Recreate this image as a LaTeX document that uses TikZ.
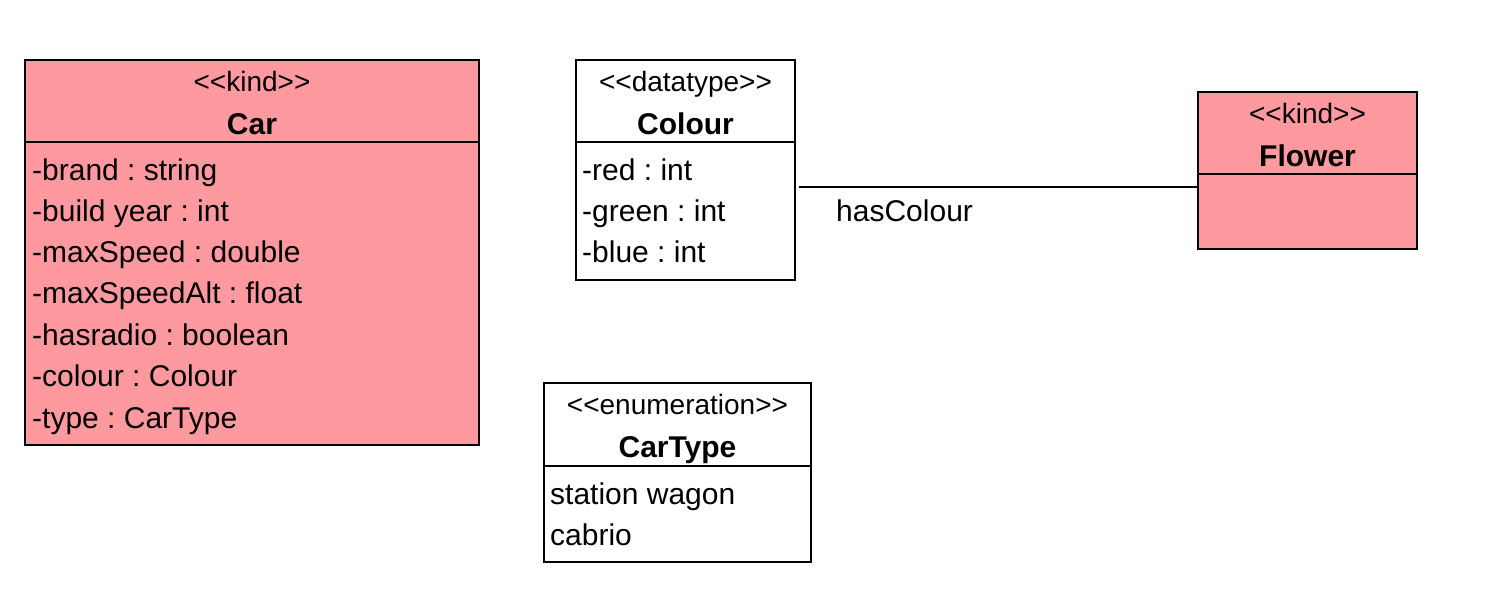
\documentclass[tikz,border=0pt]{standalone}
\usepackage{fontspec}
\setmainfont{Liberation Sans}
\definecolor{kindpink}{RGB}{255,153,160}
\newcommand{\lgl}{{<}{<}}
\newcommand{\rgl}{{>}{>}}
\frenchspacing
\begin{document}
\begin{tikzpicture}[x=1pt,y=-1pt,
  box/.style={draw=black,line width=2.5pt,rectangle,inner sep=0pt,outer sep=0pt,anchor=north west},
  divider/.style={line width=2.5pt},
  stereo/.style={anchor=base,inner sep=0pt,font=\fontsize{28}{32}\selectfont},
  cname/.style={anchor=base,inner sep=0pt,font=\fontsize{30}{34}\selectfont\bfseries},
  attr/.style={anchor=base west,inner sep=0pt,font=\fontsize{30}{34}\selectfont},
  assoc/.style={line width=2.5pt}]
\useasboundingbox (0,0) rectangle (1512,592);
% Car
\node[box,fill=kindpink,minimum width=454pt,minimum height=385pt] (car) at (25,60) {};
\draw[divider] (car.west |- 0,142) -- (car.east |- 0,142);
\node[stereo] (carst) at (252,91) {\lgl kind\rgl};
\node[cname] (carnm) at (252,134) {Car};
\node[attr] (ca1) at (32,180) {-brand : string};
\node[attr] (ca2) at (32,221) {-build year : int};
\node[attr] (ca3) at (32,262) {-maxSpeed : double};
\node[attr] (ca4) at (32,303.5) {-maxSpeedAlt : float};
\node[attr] (ca5) at (32,345) {-hasradio : boolean};
\node[attr] (ca6) at (32,386.5) {-colour : Colour};
\node[attr] (ca7) at (32,428) {-type : CarType};
% Colour
\node[box,fill=white,minimum width=219pt,minimum height=220pt] (colour) at (576,60) {};
\draw[divider] (colour.west |- 0,142) -- (colour.east |- 0,142);
\node[stereo] (colst) at (685.5,91) {\lgl datatype\rgl};
\node[cname] (colnm) at (685.5,134) {Colour};
\node[attr] (co1) at (582,180) {-red : int};
\node[attr] (co2) at (582,221) {-green : int};
\node[attr] (co3) at (582,262) {-blue : int};
% Flower
\node[box,fill=kindpink,minimum width=219pt,minimum height=157pt] (flower) at (1198,92) {};
\draw[divider] (flower.west |- 0,174) -- (flower.east |- 0,174);
\node[stereo] (flst) at (1307.5,123) {\lgl kind\rgl};
\node[cname] (flnm) at (1307.5,166) {Flower};
% CarType
\node[box,fill=white,minimum width=267pt,minimum height=179pt] (cartype) at (544,383) {};
\draw[divider] (cartype.west |- 0,466) -- (cartype.east |- 0,466);
\node[stereo] (ctst) at (677.5,414) {\lgl enumeration\rgl};
\node[cname] (ctnm) at (677.5,457) {CarType};
\node[attr] (ct1) at (550,504) {station wagon};
\node[attr] (ct2) at (550,545) {cabrio};
% association
\coordinate (hcstart) at (799,187);
\draw[assoc] (hcstart) -- (flower.west |- hcstart);
\node[attr] (hclabel) at (836,221) {hasColour};
\end{tikzpicture}
\end{document}
